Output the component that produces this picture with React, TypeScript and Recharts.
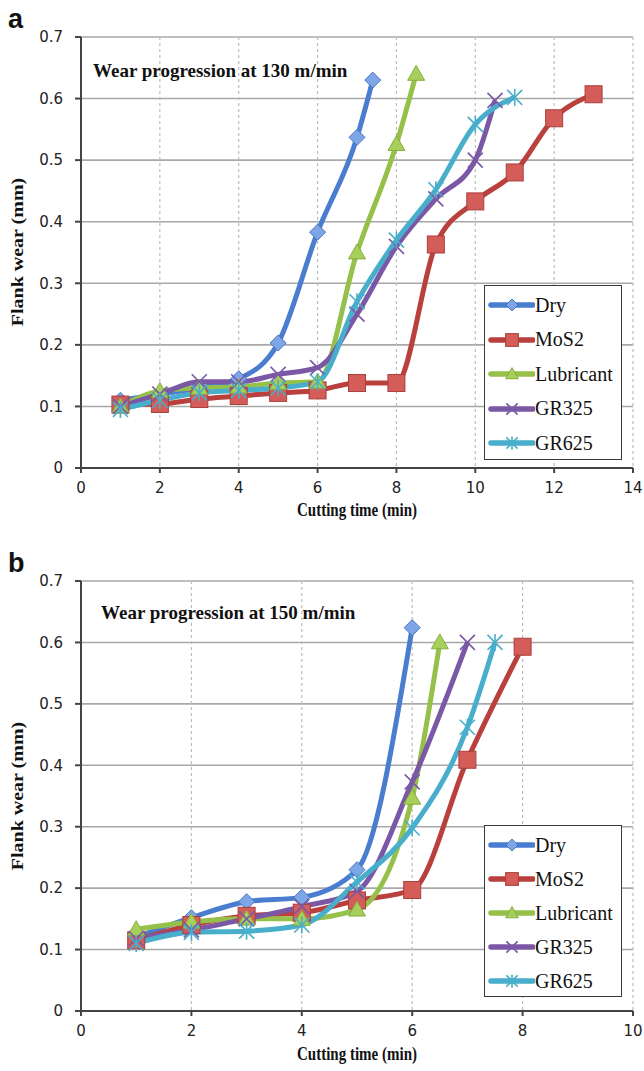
import React from 'react';
import { LineChart, Line, XAxis, YAxis, CartesianGrid } from 'recharts';

// panel a: 130 m/min
const timeDryA = [1, 2, 3, 4, 5, 6, 7, 7.4];
const wearDryA = [0.11, 0.12, 0.13, 0.145, 0.203, 0.383, 0.537, 0.63];
const timeMosA = [1, 2, 3, 4, 5, 6, 7, 8, 9, 10, 11, 12, 13];
const wearMosA = [0.103, 0.104, 0.112, 0.117, 0.122, 0.126, 0.138, 0.138, 0.363, 0.433, 0.48, 0.568, 0.607];
const timeLubA = [1, 2, 3, 4, 5, 6, 7, 8, 8.5];
const wearLubA = [0.1, 0.125, 0.13, 0.132, 0.138, 0.14, 0.35, 0.526, 0.64];
const timeG3A = [1, 2, 3, 4, 5, 6, 7, 8, 9, 10, 10.5];
const wearG3A = [0.1, 0.12, 0.14, 0.14, 0.152, 0.163, 0.25, 0.36, 0.437, 0.5, 0.597];
const timeG6A = [1, 2, 3, 4, 5, 6, 7, 8, 9, 10, 11];
const wearG6A = [0.095, 0.11, 0.122, 0.126, 0.13, 0.14, 0.27, 0.37, 0.452, 0.558, 0.602];

// panel b: 150 m/min
const timeDryB = [1, 2, 3, 4, 5, 6];
const wearDryB = [0.12, 0.152, 0.178, 0.185, 0.23, 0.624];
const timeMosB = [1, 2, 3, 4, 5, 6, 7, 8];
const wearMosB = [0.115, 0.14, 0.155, 0.16, 0.18, 0.197, 0.409, 0.593];
const timeLubB = [1, 2, 3, 4, 5, 6, 6.5];
const wearLubB = [0.133, 0.145, 0.15, 0.15, 0.165, 0.347, 0.6];
const timeG3B = [1, 2, 3, 4, 5, 6, 7];
const wearG3B = [0.118, 0.132, 0.15, 0.17, 0.195, 0.373, 0.6];
const timeG6B = [1, 2, 3, 4, 5, 6, 7, 7.5];
const wearG6B = [0.11, 0.128, 0.13, 0.14, 0.21, 0.298, 0.462, 0.6];

const seriesNames = ['Dry', 'MoS2', 'Lubricant', 'GR325', 'GR625'];
const yTicks = [0, 0.1, 0.2, 0.3, 0.4, 0.5, 0.6, 0.7];
const xTicksA = [0, 2, 4, 6, 8, 10, 12, 14];
const xTicksB = [0, 2, 4, 6, 8, 10];

const colors = ['#4a7dcf', '#b9403d', '#95c04a', '#7b58a6', '#48aecb'];
const markers = ['diamond', 'square', 'triangle', 'x', 'star'];

const pts = (xs: number[], ys: number[]) => xs.map((x, i) => ({ x, y: ys[i] }));

const Marker = ({ cx, cy, kind, color, s = 1 }: any) => {
  if (cx == null || cy == null) return <g />;
  if (kind === 'diamond') {
    const r = 8 * s;
    return (
      <polygon
        points={`${cx},${cy - r} ${cx + r},${cy} ${cx},${cy + r} ${cx - r},${cy}`}
        fill="#7ea6e6"
        stroke="#4a76c0"
        strokeWidth={1}
      />
    );
  }
  if (kind === 'square') {
    const r = 8.5 * s;
    return (
      <rect x={cx - r} y={cy - r} width={r * 2} height={r * 2} fill="#d45c59" stroke="#a8403d" strokeWidth={1} />
    );
  }
  if (kind === 'triangle') {
    const r = 8.5 * s;
    return (
      <polygon
        points={`${cx},${cy - r} ${cx + r},${cy + r * 0.75} ${cx - r},${cy + r * 0.75}`}
        fill="#a7d05b"
        stroke="#86ad3f"
        strokeWidth={1}
      />
    );
  }
  const r = 7.5 * s;
  return (
    <g stroke={color} strokeWidth={1.6}>
      <line x1={cx - r} y1={cy - r} x2={cx + r} y2={cy + r} />
      <line x1={cx - r} y1={cy + r} x2={cx + r} y2={cy - r} />
      {kind === 'star' && <line x1={cx} y1={cy - r - 1} x2={cx} y2={cy + r + 1} />}
    </g>
  );
};

const LegendBox = ({ top, gap }: { top: number; gap: number }) => (
  <div
    style={{
      position: 'absolute',
      left: 484,
      top,
      width: 138,
      height: gap * 5 + 2,
      border: '1.5px solid #3a3a3a',
      background: '#fff',
      boxSizing: 'border-box',
      fontFamily: '"Liberation Serif", serif',
      fontSize: 20,
      color: '#111',
    }}
  >
    {seriesNames.map((n, i) => (
      <div key={n} style={{ position: 'relative', height: gap, display: 'flex', alignItems: 'center', top: 2 }}>
        <svg width={50} height={20} style={{ flexShrink: 0 }}>
          <line x1={6} y1={10} x2={48} y2={10} stroke={colors[i]} strokeWidth={5.5} strokeLinecap="round" />
          <Marker cx={27} cy={10} kind={markers[i]} color={colors[i]} s={0.75} />
        </svg>
        <span>{n}</span>
      </div>
    ))}
  </div>
);

const Panel = ({ series, xTicks, xMax, height, title, letter, legendTop, legendGap, bottomPad }: any) => {
  const tickStyle = { fill: '#222', fontSize: 15, fontFamily: '"DejaVu Sans", sans-serif' };
  return (
    <div style={{ position: 'relative', width: 644, height }}>
      <LineChart width={644} height={height} margin={{ top: 37, right: 11, left: 0, bottom: bottomPad }}>
        <CartesianGrid vertical={false} stroke="#a8a8a8" strokeWidth={1.6} />
        <CartesianGrid horizontal={false} stroke="#bdbdbd" strokeDasharray="3 3" strokeWidth={1.2} />
        <XAxis
          type="number"
          dataKey="x"
          domain={[0, xMax]}
          ticks={xTicks}
          height={30}
          stroke="#444"
          strokeWidth={2}
          tickSize={5}
          tickMargin={9}
          tick={tickStyle}
          allowDuplicatedCategory={false}
        />
        <YAxis
          type="number"
          dataKey="y"
          domain={[0, 0.7]}
          ticks={yTicks}
          width={81}
          stroke="#444"
          strokeWidth={2}
          tickSize={6}
          tickMargin={12}
          tick={tickStyle}
        />
        {series.map((d: any, i: number) => (
          <Line
            key={seriesNames[i]}
            data={d}
            dataKey="y"
            name={seriesNames[i]}
            type="monotone"
            stroke={colors[i]}
            strokeWidth={5}
            isAnimationActive={false}
            dot={(p: any) => (
              <Marker key={`${seriesNames[i]}-${p.index}`} cx={p.cx} cy={p.cy} kind={markers[i]} color={colors[i]} />
            )}
            activeDot={false}
          />
        ))}
      </LineChart>
      <div
        style={{
          position: 'absolute',
          left: 8,
          top: 4,
          fontFamily: '"Liberation Sans", Arial, sans-serif',
          fontWeight: 'bold',
          fontSize: 27,
          color: '#111',
        }}
      >
        {letter}
      </div>
      <div
        style={{
          position: 'absolute',
          left: title.left,
          top: title.top,
          fontFamily: '"Liberation Serif", serif',
          fontWeight: 'bold',
          fontSize: 19,
          color: '#111',
          whiteSpace: 'nowrap',
        }}
      >
        {title.text}
      </div>
      <div
        style={{
          position: 'absolute',
          left: 18,
          top: 252,
          transform: 'translate(-50%, -50%) rotate(-90deg) scaleX(1.25)',
          fontFamily: '"Liberation Serif", serif',
          fontWeight: 'bold',
          fontSize: 16,
          color: '#111',
          whiteSpace: 'nowrap',
        }}
      >
        Flank wear (mm)
      </div>
      <div
        style={{
          position: 'absolute',
          left: 357,
          top: 511,
          transform: 'translate(-50%, -50%) scaleY(1.2)',
          fontFamily: '"Liberation Serif", serif',
          fontWeight: 'bold',
          fontSize: 15,
          color: '#111',
          whiteSpace: 'nowrap',
        }}
      >
        Cutting time (min)
      </div>
      <LegendBox top={legendTop} gap={legendGap} />
    </div>
  );
};

export default function App() {
  const seriesA = [
    pts(timeDryA, wearDryA),
    pts(timeMosA, wearMosA),
    pts(timeLubA, wearLubA),
    pts(timeG3A, wearG3A),
    pts(timeG6A, wearG6A),
  ];
  const seriesB = [
    pts(timeDryB, wearDryB),
    pts(timeMosB, wearMosB),
    pts(timeLubB, wearLubB),
    pts(timeG3B, wearG3B),
    pts(timeG6B, wearG6B),
  ];
  return (
    <div style={{ position: 'absolute', left: 0, top: 0, width: 644, height: 1071, background: '#fff' }}>
      <Panel
        series={seriesA}
        xTicks={xTicksA}
        xMax={14}
        height={544}
        bottomPad={46}
        title={{ text: 'Wear progression at 130 m/min', left: 93, top: 60 }}
        letter="a"
        legendTop={285}
        legendGap={34.5}
      />
      <Panel
        series={seriesB}
        xTicks={xTicksB}
        xMax={10}
        height={527}
        bottomPad={30}
        title={{ text: 'Wear progression at 150 m/min', left: 101, top: 58 }}
        letter="b"
        legendTop={825 - 544}
        legendGap={34}
      />
    </div>
  );
}
